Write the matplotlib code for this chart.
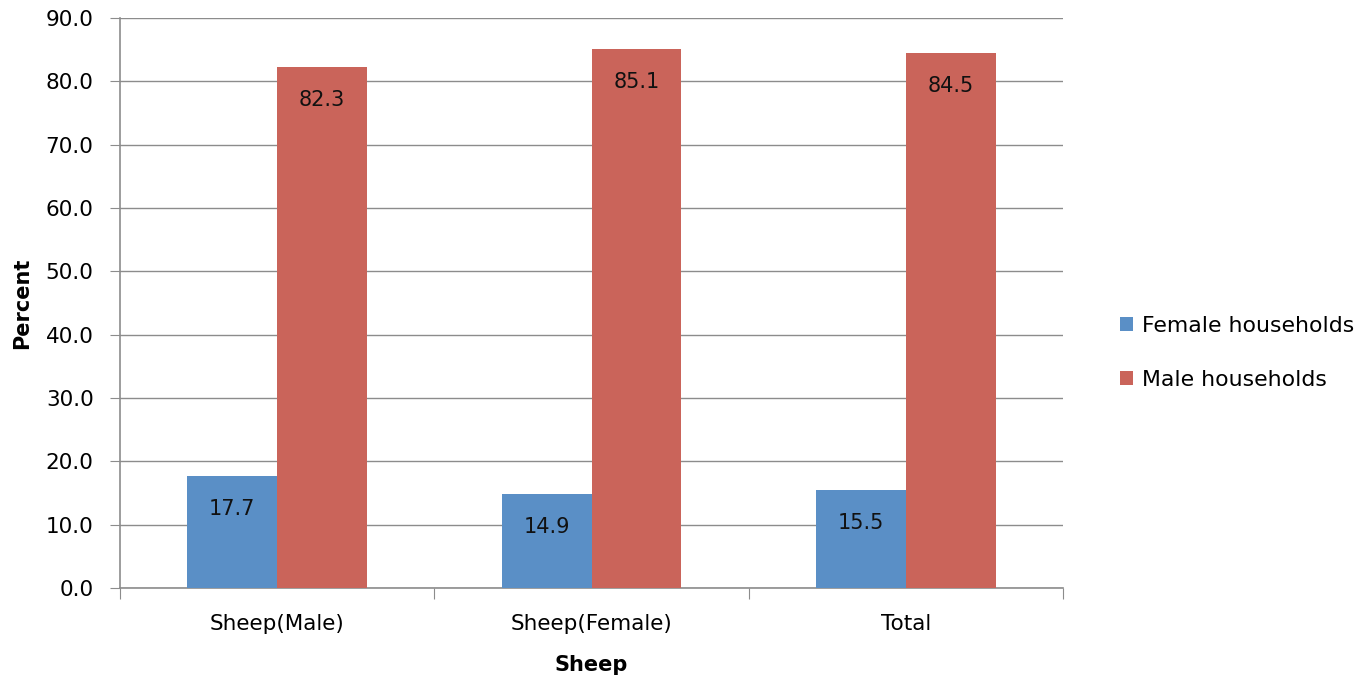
import matplotlib
matplotlib.use("Agg")
import matplotlib.pyplot as plt
import numpy as np

categories = ["Sheep(Male)", "Sheep(Female)", "Total"]
female = [17.7, 14.9, 15.5]
male = [82.3, 85.1, 84.5]
series_names = ["Female households", "Male households"]
yticks = [0, 10, 20, 30, 40, 50, 60, 70, 80, 90]

plt.rcParams['font.family'] = ['DejaVu Sans']

fig = plt.figure(figsize=(13.65, 6.82), dpi=100)
ax = fig.add_axes([0.0879, 0.1378, 0.6909, 0.8358])

x = np.arange(len(categories))
w = 0.286
grey = "#8c8c8c"
b1 = ax.bar(x - w / 2, female, w, color="#5A8FC6", label=series_names[0], zorder=3)
b2 = ax.bar(x + w / 2, male, w, color="#CA645A", label=series_names[1], zorder=3)

for bars in (b1, b2):
    for r in bars:
        ax.annotate(f"{r.get_height():.1f}", (r.get_x() + r.get_width() / 2, r.get_height()),
                    xytext=(0, -24), textcoords="offset points", ha="center", va="center",
                    fontsize=15, color="#111111", zorder=4)

ax.set_xlim(-0.5, len(categories) - 0.5)
ax.set_ylim(0, 90)
ax.set_yticks(yticks)
ax.set_yticklabels([f"{v:.1f}" for v in yticks], fontsize=15.5)
ax.set_xticks(np.arange(len(categories) + 1) - 0.5)
ax.set_xticklabels([])
ax.set_xticks(x, minor=True)
ax.set_xticklabels(categories, minor=True, fontsize=15.5)
ax.tick_params(axis="x", which="minor", length=0, pad=19)
ax.tick_params(axis="x", which="major", length=8, color=grey, direction="out")
ax.tick_params(axis="y", length=7, color=grey, direction="out", pad=12)
ax.grid(axis="y", color=grey, linewidth=1, zorder=0)
for s in ("top", "right"):
    ax.spines[s].set_visible(False)
for s in ("left", "bottom"):
    ax.spines[s].set_color(grey)
    ax.spines[s].set_linewidth(1.2)

ax.set_xlabel("Sheep", fontsize=15, fontweight="bold", labelpad=15)
ax.set_ylabel("Percent", fontsize=15, fontweight="bold", labelpad=10)

fig.legend(handles=[b1, b2], loc="center left", bbox_to_anchor=(1100 / 1365, (682 - 353) / 682),
           frameon=False, fontsize=15.8, handlelength=0.6, handleheight=0.6,
           handletextpad=0.4, labelspacing=1.55)

fig.savefig("out.png", dpi=100)
